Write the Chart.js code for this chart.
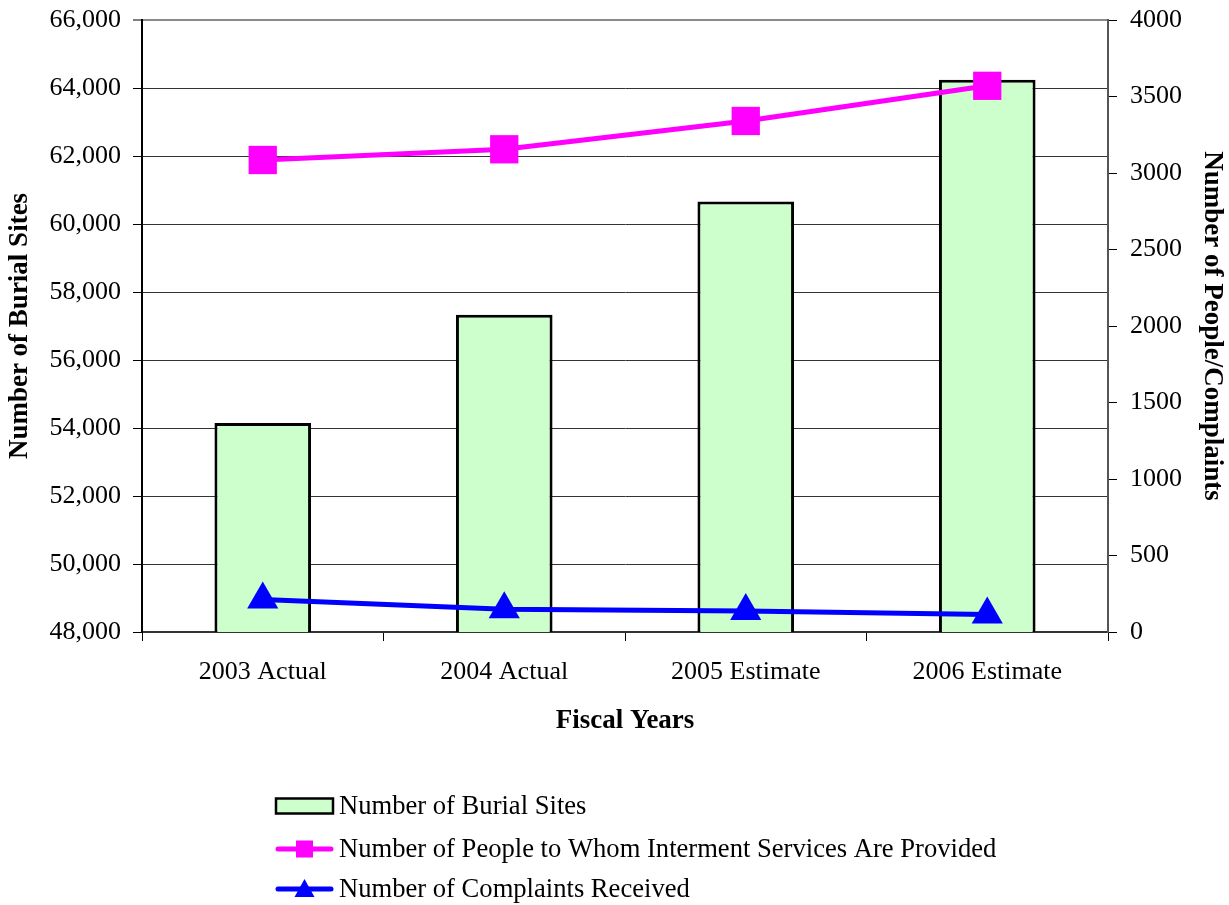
<!DOCTYPE html>
<html>
<head>
<meta charset="utf-8">
<title>Burial Sites and Interment Services</title>
<script src="https://cdn.jsdelivr.net/npm/chart.js@4.4.0/dist/chart.umd.min.js"></script>
<style>
  html, body { margin: 0; padding: 0; background: #ffffff; }
  canvas { display: block; }
</style>
</head>
<body>
<canvas id="chart" width="1229" height="905"></canvas>
<script>
// Fiscal years on the category axis
const categories = ['2003 Actual', '2004 Actual', '2005 Estimate', '2006 Estimate'];

// Left axis: number of burial sites (bars)
const burialSites = [54150, 57330, 60660, 64240];

// Right axis: people served and complaints (lines)
const peopleServed = [3085, 3155, 3340, 3570];
const complaints = [213, 148, 137, 115];

// Axis ranges and tick steps
const leftAxisRange = [48000, 66000];
const leftAxisStep = 2000;
const rightAxisRange = [0, 4000];
const rightAxisStep = 500;

const seriesNames = [
  'Number of Burial Sites',
  'Number of People to Whom Interment Services Are Provided',
  'Number of Complaints Received'
];

const SERIF = '"Liberation Serif", "Times New Roman", serif';

// Plot-box geometry (pixels on the canvas)
const PLOT_LEFT = 142;
const PLOT_RIGHT = 1108;
const PLOT_TOP = 19;
const X_AXIS_HEIGHT = 110;
const BOTTOM_SPACE = 163;

// Keep the value axes from pushing the plot box inward for their end labels
function fixVerticalAxis(scale, width) {
  scale.width = width;
  scale.paddingTop = 0;
  scale.paddingBottom = 0;
}

// Vertical legend drawn below the x-axis title
const stackedLegend = {
  id: 'stackedLegend',
  afterDraw(chart) {
    const ctx = chart.ctx;
    const x0 = 276, swatchW = 57, textX = 339;
    const rows = [806, 849, 889];
    ctx.save();
    chart.data.datasets.forEach((ds, i) => {
      const y = rows[i];
      if (ds.type === 'bar') {
        ctx.fillStyle = ds.backgroundColor;
        ctx.fillRect(x0, y - 7.5, swatchW, 15);
        ctx.strokeStyle = ds.borderColor;
        ctx.lineWidth = 2.5;
        ctx.strokeRect(x0, y - 7.5, swatchW, 15);
      } else {
        ctx.strokeStyle = ds.borderColor;
        ctx.lineWidth = 5;
        ctx.lineCap = 'round';
        ctx.beginPath();
        ctx.moveTo(x0 + 2, y);
        ctx.lineTo(x0 + swatchW - 2, y);
        ctx.stroke();
        const cx = x0 + swatchW / 2;
        ctx.fillStyle = ds.pointBackgroundColor;
        if (ds.pointStyle === 'rect') {
          ctx.fillRect(cx - 8.5, y - 8.5, 17, 17);
        } else {
          ctx.beginPath();
          ctx.moveTo(cx, y - 10);
          ctx.lineTo(cx + 10, y + 8);
          ctx.lineTo(cx - 10, y + 8);
          ctx.closePath();
          ctx.fill();
        }
      }
      ctx.fillStyle = '#000000';
      ctx.font = '26.6px ' + SERIF;
      ctx.textAlign = 'left';
      ctx.textBaseline = 'middle';
      ctx.fillText(ds.label, textX, y + 1);
    });
    ctx.restore();
  }
};

new Chart(document.getElementById('chart'), {
  data: {
    labels: categories,
    datasets: [
      {
        type: 'bar',
        label: seriesNames[0],
        data: burialSites,
        yAxisID: 'yLeft',
        backgroundColor: '#CCFFCC',
        borderColor: '#000000',
        borderWidth: 3,
        barPercentage: 0.4,
        categoryPercentage: 1.0,
        order: 3
      },
      {
        type: 'line',
        label: seriesNames[1],
        data: peopleServed,
        yAxisID: 'yRight',
        borderColor: '#FF00FF',
        backgroundColor: '#FF00FF',
        pointBackgroundColor: '#FF00FF',
        pointBorderColor: '#FF00FF',
        borderWidth: 5,
        pointStyle: 'rect',
        pointRadius: 20,
        pointBorderWidth: 0,
        tension: 0,
        order: 2
      },
      {
        type: 'line',
        label: seriesNames[2],
        data: complaints,
        yAxisID: 'yRight',
        borderColor: '#0000FF',
        backgroundColor: '#0000FF',
        pointBackgroundColor: '#0000FF',
        pointBorderColor: '#0000FF',
        borderWidth: 5,
        pointStyle: 'triangle',
        pointRadius: 18,
        pointBorderWidth: 0,
        tension: 0,
        order: 1
      }
    ]
  },
  options: {
    responsive: false,
    animation: false,
    events: [],
    layout: {
      padding: { left: 0, right: 0, top: PLOT_TOP, bottom: BOTTOM_SPACE }
    },
    plugins: {
      legend: { display: false },
      tooltip: { enabled: false }
    },
    scales: {
      x: {
        type: 'category',
        position: 'bottom',
        offset: true,
        border: { display: true, color: '#333333', width: 2 },
        grid: {
          offset: true,
          drawOnChartArea: false,
          drawTicks: true,
          tickLength: 9,
          tickColor: '#000000',
          tickWidth: 1
        },
        ticks: {
          color: '#000000',
          font: { family: SERIF, size: 26 },
          padding: 16,
          maxRotation: 0,
          autoSkip: false
        },
        title: {
          display: true,
          text: 'Fiscal Years',
          color: '#000000',
          font: { family: SERIF, size: 27, weight: 'bold' },
          padding: { top: 0, bottom: 5 }
        },
        afterFit(scale) { scale.height = X_AXIS_HEIGHT; }
      },
      yLeft: {
        type: 'linear',
        position: 'left',
        min: leftAxisRange[0],
        max: leftAxisRange[1],
        border: { display: true, color: '#000000', width: 2 },
        grid: {
          color: (c) => (c.tick && c.tick.value === leftAxisRange[1]) ? '#8a8a8a' : '#333333',
          lineWidth: (c) => (c.tick && c.tick.value === leftAxisRange[1]) ? 2 : 1,
          drawTicks: true,
          tickLength: 9,
          tickColor: '#000000',
          tickWidth: 1
        },
        ticks: {
          stepSize: leftAxisStep,
          color: '#000000',
          font: { family: SERIF, size: 26 },
          padding: 12,
          callback: (v) => Number(v).toLocaleString('en-US')
        },
        title: {
          display: true,
          text: 'Number of Burial Sites',
          color: '#000000',
          font: { family: SERIF, size: 27, weight: 'bold' },
          padding: { top: 4, bottom: 0 }
        },
        afterFit(scale) { fixVerticalAxis(scale, PLOT_LEFT); }
      },
      yRight: {
        type: 'linear',
        position: 'right',
        min: rightAxisRange[0],
        max: rightAxisRange[1],
        border: { display: true, color: '#555555', width: 2 },
        grid: {
          drawOnChartArea: false,
          drawTicks: true,
          tickLength: 9,
          tickColor: '#000000',
          tickWidth: 1
        },
        ticks: {
          stepSize: rightAxisStep,
          color: '#000000',
          font: { family: SERIF, size: 26 },
          padding: 13,
          callback: (v) => String(v)
        },
        title: {
          display: true,
          text: 'Number of People/Complaints',
          color: '#000000',
          font: { family: SERIF, size: 27, weight: 'bold' },
          padding: { top: 1, bottom: 0 }
        },
        afterFit(scale) { fixVerticalAxis(scale, 1229 - PLOT_RIGHT); }
      }
    }
  },
  plugins: [stackedLegend]
});
</script>
</body>
</html>
